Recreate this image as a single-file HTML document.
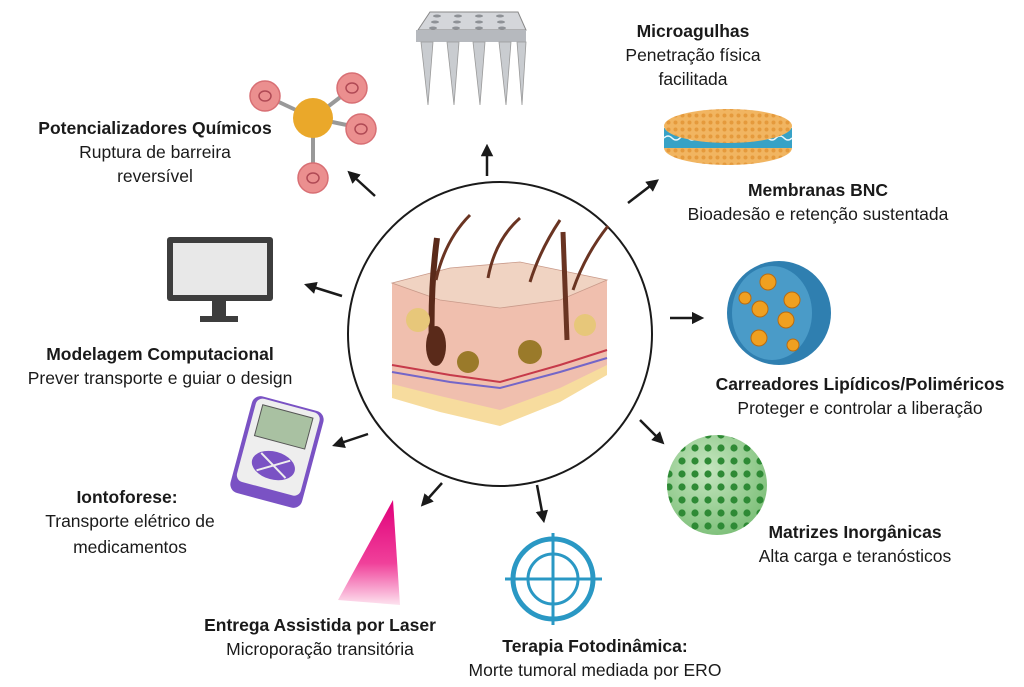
<!DOCTYPE html>
<html><head><meta charset="utf-8"><style>
html,body{margin:0;padding:0;background:#fff;}
svg{display:block;}
text{font-family:"Liberation Sans",sans-serif;font-size:17.5px;fill:#1a1a1a;text-anchor:middle;}
.b{font-weight:bold;}
</style></head><body>
<svg width="1024" height="687" viewBox="0 0 1024 687" xmlns="http://www.w3.org/2000/svg">
<defs>
<marker id="ah" viewBox="0 0 10 10" refX="5" refY="5" markerWidth="5" markerHeight="5" orient="auto"><path d="M0,0L10,5L0,10z" fill="#1a1a1a"/></marker>
<linearGradient id="las" x1="0" y1="0" x2="0" y2="1"><stop offset="0" stop-color="#e0007a"/><stop offset="0.6" stop-color="#f0409a"/><stop offset="1" stop-color="#fde3ef"/></linearGradient>
<radialGradient id="gs" cx="0.4" cy="0.35" r="0.7"><stop offset="0" stop-color="#c6e6c0"/><stop offset="1" stop-color="#7cbf78"/></radialGradient>
<pattern id="gd" width="13" height="13" patternUnits="userSpaceOnUse"><circle cx="6" cy="6" r="3.6" fill="#2e8a35"/></pattern>
<pattern id="od" width="7" height="7" patternUnits="userSpaceOnUse"><rect width="7" height="7" fill="#f1b561"/><circle cx="3.5" cy="3.5" r="2" fill="#e59a3c"/></pattern>
<clipPath id="gc"><circle cx="717" cy="485" r="50"/></clipPath>
</defs>

<circle cx="500" cy="334" r="152" fill="#fff" stroke="#1a1a1a" stroke-width="2"/>
<g>
<path d="M392,283 L450,268 L520,262 L607,280 L607,372 L560,400 L500,425 L440,410 L392,395 Z" fill="#f0bfae"/>
<path d="M392,283 L450,268 L520,262 L607,280 L560,300 L500,308 L440,300 Z" fill="#f0d3c2" stroke="#c99a8a" stroke-width="0.8"/>
<path d="M392,384 L440,396 L500,410 L560,388 L607,365 L607,375 L560,402 L500,426 L440,412 L392,398 Z" fill="#f7dc9e"/>
<path d="M392,365 L450,375 L500,382 L560,365 L607,350" fill="none" stroke="#c63a4a" stroke-width="2"/>
<path d="M392,372 L450,382 L500,388 L560,372 L607,358" fill="none" stroke="#7466c8" stroke-width="2"/>
<path d="M437,238 Q430,290 432,350" fill="none" stroke="#5a2a1a" stroke-width="6"/>
<ellipse cx="436" cy="346" rx="10" ry="20" fill="#5a2a1a"/>
<path d="M563,232 Q565,280 567,340" fill="none" stroke="#6a3422" stroke-width="5"/>
<path d="M470,215 Q445,240 436,280" fill="none" stroke="#6a3422" stroke-width="3"/>
<path d="M520,218 Q495,240 488,278" fill="none" stroke="#6a3422" stroke-width="3"/>
<path d="M560,220 Q540,250 530,282" fill="none" stroke="#6a3422" stroke-width="3"/>
<path d="M608,226 Q585,255 573,290" fill="none" stroke="#6a3422" stroke-width="3"/>
<circle cx="418" cy="320" r="12" fill="#e7c77a"/>
<circle cx="468" cy="362" r="11" fill="#9a7a2a"/>
<circle cx="530" cy="352" r="12" fill="#9a7a2a"/>
<circle cx="585" cy="325" r="11" fill="#e7c77a"/>
</g>

<g stroke="#1a1a1a" stroke-width="2.5" marker-end="url(#ah)">
<line x1="487" y1="176" x2="487" y2="150"/>
<line x1="375" y1="196" x2="352" y2="175"/>
<line x1="628" y1="203" x2="654" y2="183"/>
<line x1="342" y1="296" x2="310" y2="286"/>
<line x1="670" y1="318" x2="698" y2="318"/>
<line x1="368" y1="434" x2="338" y2="444"/>
<line x1="640" y1="420" x2="660" y2="440"/>
<line x1="442" y1="483" x2="425" y2="502"/>
<line x1="537" y1="485" x2="543" y2="517"/>
</g>

<g>
<path d="M418,30 L430,12 L518,12 L526,30 Z" fill="#d4d6da" stroke="#888" stroke-width="1"/>
<rect x="416" y="30" width="110" height="12" fill="#b6b9be"/>
<g fill="#8e9196"><ellipse cx="437" cy="16" rx="4" ry="1.5"/><ellipse cx="458" cy="16" rx="4" ry="1.5"/><ellipse cx="479" cy="16" rx="4" ry="1.5"/><ellipse cx="500" cy="16" rx="4" ry="1.5"/><ellipse cx="435" cy="22" rx="4" ry="1.5"/><ellipse cx="457" cy="22" rx="4" ry="1.5"/><ellipse cx="479" cy="22" rx="4" ry="1.5"/><ellipse cx="501" cy="22" rx="4" ry="1.5"/><ellipse cx="433" cy="28" rx="4" ry="1.5"/><ellipse cx="456" cy="28" rx="4" ry="1.5"/><ellipse cx="479" cy="28" rx="4" ry="1.5"/><ellipse cx="502" cy="28" rx="4" ry="1.5"/></g>
<g fill="#c9ccd0" stroke="#999" stroke-width="0.8"><path d="M421,42 L433,42 L428,105Z"/><path d="M447,42 L459,42 L454,105Z"/><path d="M473,42 L485,42 L480,105Z"/><path d="M499,42 L511,42 L506,105Z"/><path d="M517,42 L526,42 L522,105Z"/></g>
</g>

<g>
<g stroke="#999" stroke-width="4"><line x1="313" y1="118" x2="266" y2="96"/><line x1="313" y1="118" x2="351" y2="89"/><line x1="313" y1="118" x2="361" y2="128"/><line x1="313" y1="118" x2="313" y2="178"/></g>
<circle cx="313" cy="118" r="20" fill="#eaa82a"/>
<g fill="#eb8f8f" stroke="#d86f74" stroke-width="1.5"><circle cx="265" cy="96" r="15"/><circle cx="352" cy="88" r="15"/><circle cx="361" cy="129" r="15"/><circle cx="313" cy="178" r="15"/></g>
<g fill="none" stroke="#b04a55" stroke-width="1.5"><ellipse cx="265" cy="96" rx="6" ry="5"/><ellipse cx="352" cy="88" rx="6" ry="5"/><ellipse cx="361" cy="129" rx="6" ry="5"/><ellipse cx="313" cy="178" rx="6" ry="5"/></g>
</g>

<g>
<rect x="167" y="237" width="106" height="64" rx="3" fill="#3d3d3d"/>
<rect x="173" y="243" width="94" height="52" fill="#e8e8e8"/>
<rect x="212" y="301" width="14" height="16" fill="#3d3d3d"/>
<rect x="200" y="316" width="38" height="6" fill="#3d3d3d"/>
</g>

<g>
<ellipse cx="728" cy="148" rx="64" ry="17" fill="url(#od)"/>
<rect x="664" y="128" width="128" height="20" fill="#37a2c6"/>
<path d="M664,138 q4,-4 8,0 t8,0 t8,0 t8,0 t8,0 t8,0 t8,0 t8,0 t8,0 t8,0 t8,0 t8,0 t8,0 t8,0 t8,0 t8,0" fill="none" stroke="#e9f6fb" stroke-width="1.5"/>
<ellipse cx="728" cy="126" rx="64" ry="17" fill="url(#od)"/>
</g>

<g>
<circle cx="779" cy="313" r="52" fill="#2f7fb0"/>
<ellipse cx="772" cy="313" rx="40" ry="47" fill="#4a9bc8"/>
<g fill="#f0a020" stroke="#b86b10" stroke-width="1"><circle cx="768" cy="282" r="8"/><circle cx="792" cy="300" r="8"/><circle cx="760" cy="309" r="8"/><circle cx="786" cy="320" r="8"/><circle cx="759" cy="338" r="8"/><circle cx="793" cy="345" r="6"/><circle cx="745" cy="298" r="6"/></g>
</g>

<g>
<circle cx="717" cy="485" r="50" fill="url(#gs)"/>
<rect x="667" y="435" width="100" height="100" fill="url(#gd)" clip-path="url(#gc)"/>
</g>

<g transform="rotate(15 277 452)">
<rect x="240" y="402" width="74" height="100" rx="9" fill="#7a52c4"/>
<rect x="244" y="404" width="66" height="86" rx="7" fill="#eee"/>
<rect x="251" y="410" width="52" height="32" fill="#a9c1a2" stroke="#555" stroke-width="1"/>
<ellipse cx="277" cy="466" rx="22" ry="14" fill="#7a52c4"/>
<line x1="262" y1="457" x2="292" y2="475" stroke="#eee" stroke-width="2"/>
<line x1="262" y1="475" x2="292" y2="457" stroke="#eee" stroke-width="2"/>
</g>

<path d="M393,500 L400,605 L338,600 Z" fill="url(#las)"/>

<g fill="none" stroke="#2a98c4">
<circle cx="553" cy="579" r="40" stroke-width="5"/>
<circle cx="553" cy="579" r="25" stroke-width="3"/>
<line x1="505" y1="579" x2="602" y2="579" stroke-width="3"/>
<line x1="553" y1="533" x2="553" y2="625" stroke-width="3"/>
</g>

<text x="693" y="37" class="b">Microagulhas</text>
<text x="693" y="61">Penetração física</text>
<text x="693" y="85">facilitada</text>

<text x="155" y="134" class="b">Potencializadores Químicos</text>
<text x="155" y="158">Ruptura de barreira</text>
<text x="155" y="182">reversível</text>

<text x="818" y="196" class="b">Membranas BNC</text>
<text x="818" y="220">Bioadesão e retenção sustentada</text>

<text x="160" y="360" class="b">Modelagem Computacional</text>
<text x="160" y="384">Prever transporte e guiar o design</text>

<text x="860" y="390" class="b">Carreadores Lipídicos/Poliméricos</text>
<text x="860" y="414">Proteger e controlar a liberação</text>

<text x="127" y="503" class="b">Iontoforese:</text>
<text x="130" y="527">Transporte elétrico de</text>
<text x="130" y="553">medicamentos</text>

<text x="855" y="538" class="b">Matrizes Inorgânicas</text>
<text x="855" y="562">Alta carga e teranósticos</text>

<text x="320" y="631" class="b">Entrega Assistida por Laser</text>
<text x="320" y="655">Microporação transitória</text>

<text x="595" y="652" class="b">Terapia Fotodinâmica:</text>
<text x="595" y="676">Morte tumoral mediada por ERO</text>
</svg>
</body></html>
